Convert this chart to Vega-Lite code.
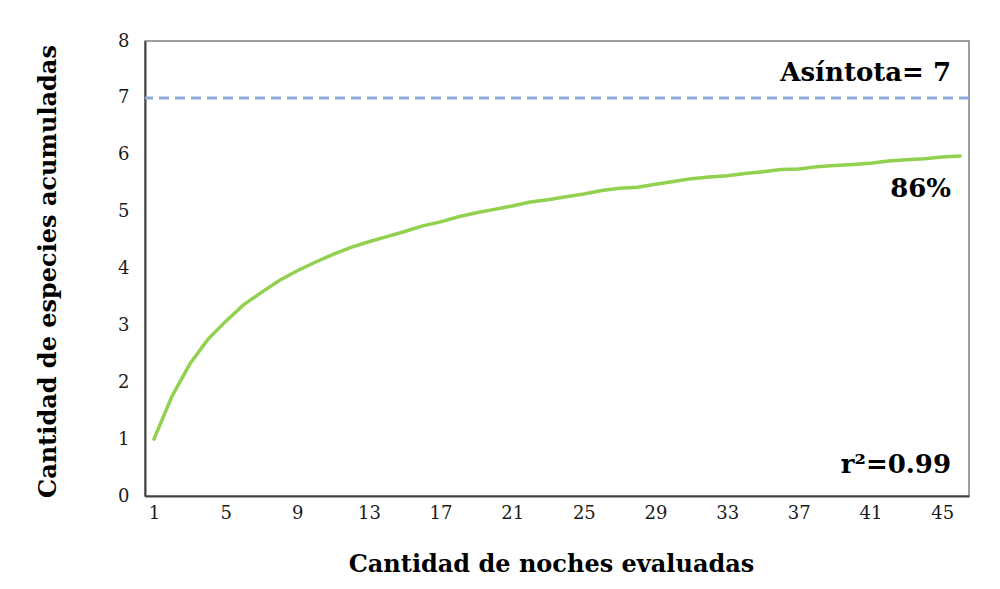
{
  "$schema": "https://vega.github.io/schema/vega-lite/v6.json",
  "width": 824,
  "height": 455,
  "autosize": {"type": "none"},
  "padding": {"left": 145, "top": 41, "right": 31, "bottom": 93},
  "background": "white",
  "config": {
    "view": {"stroke": "#7f7f7f", "strokeWidth": 1.5},
    "font": "DejaVu Serif"
  },
  "datasets": {
    "curva": [
      {"noche": 1, "especies": 1.0},
      {"noche": 2, "especies": 1.75},
      {"noche": 3, "especies": 2.32},
      {"noche": 4, "especies": 2.75},
      {"noche": 5, "especies": 3.07},
      {"noche": 6, "especies": 3.36},
      {"noche": 7, "especies": 3.58},
      {"noche": 8, "especies": 3.79},
      {"noche": 9, "especies": 3.96},
      {"noche": 10, "especies": 4.11},
      {"noche": 11, "especies": 4.25},
      {"noche": 12, "especies": 4.37},
      {"noche": 13, "especies": 4.47},
      {"noche": 14, "especies": 4.56},
      {"noche": 15, "especies": 4.65},
      {"noche": 16, "especies": 4.75},
      {"noche": 17, "especies": 4.82},
      {"noche": 18, "especies": 4.91},
      {"noche": 19, "especies": 4.98},
      {"noche": 20, "especies": 5.04},
      {"noche": 21, "especies": 5.10},
      {"noche": 22, "especies": 5.17},
      {"noche": 23, "especies": 5.21},
      {"noche": 24, "especies": 5.26},
      {"noche": 25, "especies": 5.31},
      {"noche": 26, "especies": 5.37},
      {"noche": 27, "especies": 5.41},
      {"noche": 28, "especies": 5.43},
      {"noche": 29, "especies": 5.48},
      {"noche": 30, "especies": 5.53},
      {"noche": 31, "especies": 5.58},
      {"noche": 32, "especies": 5.61},
      {"noche": 33, "especies": 5.63},
      {"noche": 34, "especies": 5.67},
      {"noche": 35, "especies": 5.70},
      {"noche": 36, "especies": 5.74},
      {"noche": 37, "especies": 5.75},
      {"noche": 38, "especies": 5.79},
      {"noche": 39, "especies": 5.81},
      {"noche": 40, "especies": 5.83},
      {"noche": 41, "especies": 5.85},
      {"noche": 42, "especies": 5.89},
      {"noche": 43, "especies": 5.91},
      {"noche": 44, "especies": 5.93},
      {"noche": 45, "especies": 5.96},
      {"noche": 46, "especies": 5.98}
    ],
    "asintota": [{"valor": 7}],
    "notas": [
      {"noche": 46, "y": 7.3, "texto": "Asíntota= 7"},
      {"noche": 46, "y": 5.26, "texto": "86%"},
      {"noche": 46, "y": 0.41, "texto": "r²=0.99"}
    ]
  },
  "layer": [
    {
      "data": {"name": "asintota"},
      "mark": {"type": "rule", "color": "#8eaadb", "strokeWidth": 3, "strokeDash": [10, 6]},
      "encoding": {
        "y": {"field": "valor", "type": "quantitative", "scale": {"domain": [0, 8]}}
      }
    },
    {
      "data": {"name": "curva"},
      "mark": {"type": "line", "color": "#92d050", "strokeWidth": 3.5, "strokeCap": "round"},
      "encoding": {
        "x": {
          "field": "noche",
          "type": "ordinal",
          "scale": {"type": "point", "padding": 0.5},
          "axis": {
            "values": [1, 5, 9, 13, 17, 21, 25, 29, 33, 37, 41, 45],
            "labelAngle": 0,
            "labelFont": "DejaVu Serif",
            "labelFontSize": 18,
            "labelColor": "#1a1a1a",
            "labelPadding": 8,
            "ticks": false,
            "grid": false,
            "domainColor": "#404040",
            "domainWidth": 2,
            "title": "Cantidad de noches evaluadas",
            "titleFont": "DejaVu Serif",
            "titleFontWeight": "bold",
            "titleFontSize": 24,
            "titleColor": "black",
            "titleX": 406,
            "titleY": 75,
            "titleBaseline": "alphabetic"
          }
        },
        "y": {
          "field": "especies",
          "type": "quantitative",
          "scale": {"domain": [0, 8]},
          "axis": {
            "values": [0, 1, 2, 3, 4, 5, 6, 7, 8],
            "format": "d",
            "labelFont": "DejaVu Serif",
            "labelFontSize": 18,
            "labelColor": "#1a1a1a",
            "labelPadding": 16,
            "ticks": false,
            "grid": false,
            "domainColor": "#404040",
            "domainWidth": 2,
            "title": "Cantidad de especies acumuladas",
            "titleFont": "DejaVu Serif",
            "titleFontWeight": "bold",
            "titleFontSize": 24,
            "titleColor": "black",
            "titleX": -97,
            "titleY": 230,
            "titleAngle": -90,
            "titleBaseline": "middle"
          }
        }
      }
    },
    {
      "data": {"name": "notas"},
      "mark": {"type": "text", "align": "right", "baseline": "alphabetic", "fontWeight": "bold", "fontSize": 26, "font": "DejaVu Serif", "color": "black", "dx": -9},
      "encoding": {
        "x": {"field": "noche", "type": "ordinal"},
        "y": {"field": "y", "type": "quantitative"},
        "text": {"field": "texto"}
      }
    }
  ]
}
